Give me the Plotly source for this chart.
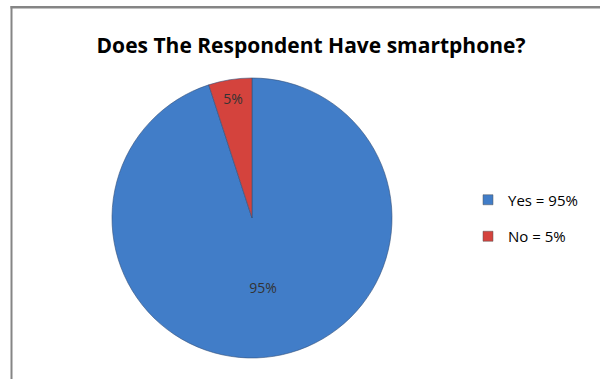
import plotly.graph_objects as go

labels = ["Yes = 95%", "No = 5%"]
values = [95, 5]
slice_text = ["95%", "5%"]
colors = ["#417DC8", "#D4433D"]

W, H = 600, 379
cx, cy, r = 252, 218, 140

fig = go.Figure()
fig.add_trace(go.Pie(
    labels=labels,
    values=values,
    text=slice_text,
    textinfo="text",
    textposition="inside",
    insidetextorientation="horizontal",
    sort=False,
    direction="clockwise",
    rotation=0,
    showlegend=False,
    marker=dict(colors=colors, line=dict(color="#34507a", width=0.6)),
    textfont=dict(family="Open Sans", size=14, color="#333333"),
    domain=dict(x=[(cx - r) / W, (cx + r) / W], y=[(H - cy - r) / H, (H - cy + r) / H]),
    hoverinfo="label+percent",
))

# legend entries
for lab, col in zip(labels, colors):
    fig.add_trace(go.Scatter(
        x=[None], y=[None], mode="markers", name=lab, legendgroup=lab,
        marker=dict(symbol="square", size=10, color=col,
                    line=dict(color="#555555", width=0.5)),
    ))

fig.update_layout(
    width=W, height=H,
    margin=dict(l=0, r=0, t=0, b=0),
    paper_bgcolor="white",
    plot_bgcolor="white",
    xaxis=dict(visible=False),
    yaxis=dict(visible=False),
    title=dict(text="<b>Does The Respondent Have smartphone?</b>",
               x=311 / W, xanchor="center", y=1 - 46 / H, yanchor="middle",
               font=dict(family="Open Sans", size=21, color="#000000")),
    legend=dict(x=468 / W, xanchor="left", y=1 - 218 / H, yanchor="middle",
                font=dict(family="Open Sans", size=15, color="#000000"),
                itemwidth=30, tracegroupgap=14, bgcolor="rgba(0,0,0,0)"),
    uniformtext=dict(minsize=14, mode="show"),
    shapes=[
        dict(type="rect", xref="paper", yref="paper",
             x0=10.5 / W, x1=12.5 / W, y0=0, y1=1 - 6 / H,
             line=dict(width=0), fillcolor="#858585", layer="above"),
        dict(type="rect", xref="paper", yref="paper",
             x0=10.5 / W, x1=1, y0=1 - 8.5 / H, y1=1 - 6 / H,
             line=dict(width=0), fillcolor="#858585", layer="above"),
    ],
)

fig.write_html("out.html", config={"displayModeBar": False},
               post_script="document.body.style.margin='0px';")
